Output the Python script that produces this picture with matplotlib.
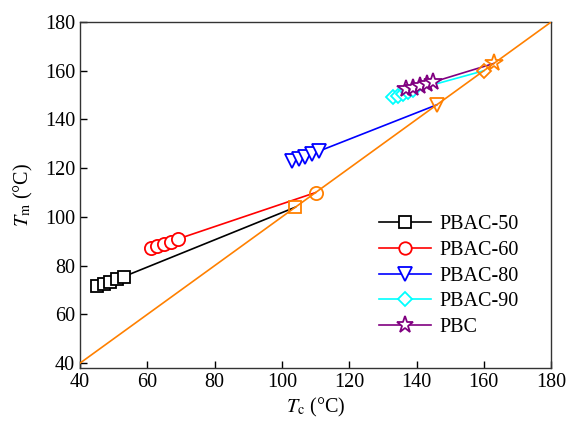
import matplotlib.pyplot as plt

plt.rcParams["font.family"] = "Liberation Serif"
plt.rcParams["mathtext.fontset"] = "stix"

# crystallization / melting temperatures (deg C)
tc_50 = [45, 47, 49, 51, 53]
tm_50 = [71.5, 72.5, 73.5, 74.5, 75.5]
tc_60 = [61, 63, 65, 67, 69]
tm_60 = [87.3, 88.0, 88.9, 89.9, 90.9]
tc_80 = [103, 105, 107, 109, 111]
tm_80 = [123.0, 123.8, 124.8, 125.8, 127.0]
tc_90 = [133, 134.5, 136, 137.5, 139]
tm_90 = [149.2, 149.8, 150.6, 151.3, 152.0]
tc_pbc = [137, 139, 141, 143, 145]
tm_pbc = [152.3, 153.1, 153.8, 154.6, 155.4]

# equilibrium melting points (Tm = Tc intersection)
tm0 = [104, 110, 146, 160, 163]

labels = ["PBAC-50", "PBAC-60", "PBAC-80", "PBAC-90", "PBC"]
colors = ["black", "red", "blue", "cyan", "purple"]
markers = ["s", "o", "v", "D", "*"]
msizes = [8.5, 9.5, 10.5, 7.5, 13]

tcs = [tc_50, tc_60, tc_80, tc_90, tc_pbc]
tms = [tm_50, tm_60, tm_80, tm_90, tm_pbc]

fig = plt.figure(figsize=(5.69, 4.23), dpi=100)
ax = fig.add_axes([0.1406, 0.13, 0.828, 0.818])

for tc, tm, t0, lab, c, m, ms in zip(tcs, tms, tm0, labels, colors, markers, msizes):
    ax.plot(tc + [t0], tm + [t0], color=c, lw=1.2, zorder=2)
    ax.plot(tc, tm, ls="none", marker=m, ms=ms, mfc="white", mec=c, mew=1.3, zorder=3)
    ax.plot([], [], color=c, lw=1.2, marker=m, ms=ms - 0.5, mfc="white", mec=c, mew=1.3, label=lab)
    ax.plot([t0], [t0], ls="none", marker=m, ms=ms, mfc="none", mec="#ff8000", mew=1.3, zorder=5)

diag = [40, 180]
ax.plot(diag, diag, color="#ff8000", lw=1.2, zorder=4)

ax.set_xlim(40, 180)
ax.set_ylim(38, 180)
ax.set_xticks(range(40, 181, 20))
ax.set_yticks(range(40, 181, 20))
ax.tick_params(direction="in", length=5, width=1, labelsize=14.5, top=False, right=False)
for s in ax.spines.values():
    s.set_linewidth(1)
    s.set_color("#333333")

ax.set_xlabel(r"$T_\mathrm{c}$ (°C)", fontsize=14.5, labelpad=3)
ax.set_ylabel(r"$T_\mathrm{m}$ (°C)", fontsize=14.5, labelpad=7)

ax.legend(loc="upper left", bbox_to_anchor=(0.617, 0.465), frameon=False, fontsize=14.5,
          handlelength=2.6, handletextpad=0.4, labelspacing=0.33, borderaxespad=0)

fig.savefig("out.png", dpi=100)
